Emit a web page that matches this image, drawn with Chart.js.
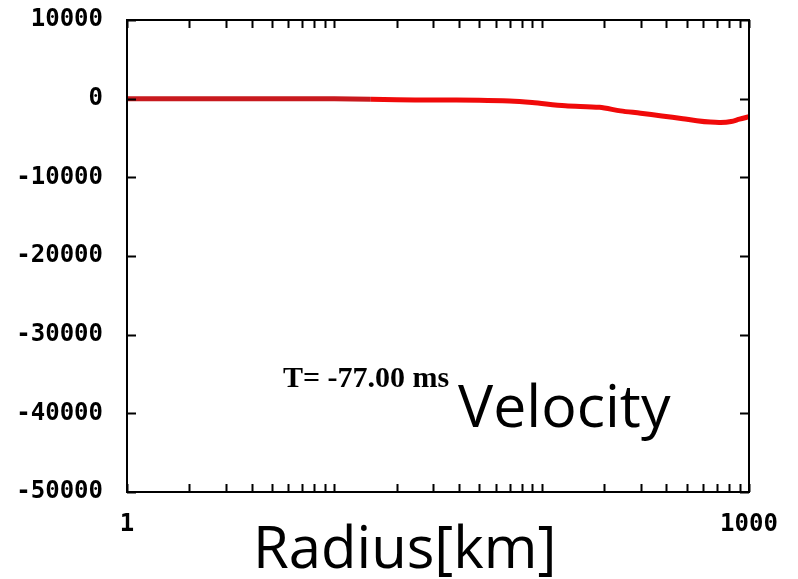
<!DOCTYPE html>
<html>
<head>
<meta charset="utf-8">
<title>Velocity</title>
<script src="https://cdn.jsdelivr.net/npm/chart.js@4"></script>
<style>
  body { margin: 0; background: #fff; }
  #wrap { width: 798px; height: 579px; position: relative; }
</style>
</head>
<body>
<div id="wrap"><canvas id="velocity-chart"></canvas></div>
<script>
// données
const radiusKm = [1, 2, 5, 10, 15, 20, 30, 50, 70, 90, 130, 190, 240, 300, 380, 480, 560, 650, 730, 820, 900, 1000];
const velocity = [0, 0, 0, -20, -80, -150, -180, -200, -300, -500, -900, -1100, -1550, -1850, -2200, -2550, -2800, -2980, -3030, -2900, -2600, -2300];

const xTickValues = [1, 2, 3, 4, 5, 6, 7, 8, 9, 10, 20, 30, 40, 50, 60, 70, 80, 90, 100, 200, 300, 400, 500, 600, 700, 800, 900, 1000];
const xTickLabels = ['1', '1000'];
const yTickValues = [10000, 0, -10000, -20000, -30000, -40000, -50000];

const timeLabel = 'T= -77.00 ms';
const plotTitle = 'Velocity';
const xTitle = 'Radius[km]';

// cadre + graduations intérieures (style gnuplot)
const frameTicks = {
    id: 'frameTicks',
    afterDatasetsDraw(chart) {
        const { ctx, chartArea: a, scales: { x, y } } = chart;
        ctx.save();
        ctx.strokeStyle = '#000';
        ctx.lineWidth = 2;
        ctx.strokeRect(a.left, a.top, a.right - a.left, a.bottom - a.top);
        ctx.beginPath();
        xTickValues.forEach(v => {
            const px = Math.round(x.getPixelForValue(v)) + 0.5;
            ctx.moveTo(px, a.bottom); ctx.lineTo(px, a.bottom - 8);
            ctx.moveTo(px, a.top); ctx.lineTo(px, a.top + 8);
        });
        yTickValues.forEach(v => {
            const py = Math.round(y.getPixelForValue(v)) + 0.5;
            ctx.moveTo(a.left, py); ctx.lineTo(a.left + 9, py);
            ctx.moveTo(a.right, py); ctx.lineTo(a.right - 9, py);
        });
        ctx.stroke();
        ctx.restore();
    },
    afterDraw(chart) {
        const ctx = chart.ctx;
        ctx.save();
        ctx.fillStyle = '#000';
        ctx.textBaseline = 'alphabetic';
        ctx.textAlign = 'left';
        ctx.font = 'bold 30px "Liberation Serif", serif';
        ctx.fillText(timeLabel, 283, 387);
        ctx.font = '59px "Open Sans", sans-serif';
        ctx.fillText(plotTitle, 458, 427);
        ctx.font = '58px "Open Sans", sans-serif';
        ctx.fillText(xTitle, 253, 568);
        ctx.restore();
    }
};

const tickFont = { family: '"DejaVu Sans Mono", monospace', size: 24, weight: 'bold' };

new Chart(document.getElementById('velocity-chart'), {
    type: 'line',
    data: {
        datasets: [{
            label: 'Velocity',
            data: radiusKm.map((r, i) => ({ x: r, y: velocity[i] })),
            borderColor: '#f00a0a',
            borderWidth: 5,
            pointRadius: 0,
            tension: 0.3,
            fill: false,
            segment: {
                // partie gauche plus sombre, comme sur l'image
                borderColor: c => c.p0.parsed.x < 15 ? '#c81a1e' : undefined
            }
        }]
    },
    options: {
        responsive: true,
        maintainAspectRatio: false,
        animation: false,
        layout: { padding: { left: 0, right: 49, top: 20, bottom: 0 } },
        plugins: {
            legend: { display: false },
            tooltip: { enabled: false }
        },
        scales: {
            x: {
                type: 'logarithmic',
                min: 1,
                max: 1000,
                grid: { display: false },
                border: { display: false },
                afterBuildTicks: scale => {
                    scale.ticks = xTickValues.map(v => ({ value: v }));
                },
                afterFit: scale => {
                    scale.height = 87;
                    scale.paddingLeft = 0;
                    scale.paddingRight = 0;
                },
                ticks: {
                    autoSkip: false,
                    maxRotation: 0,
                    padding: 10,
                    color: '#000',
                    font: tickFont,
                    callback: function(value) {
                        const s = String(value);
                        return xTickLabels.includes(s) ? s : '';
                    }
                }
            },
            y: {
                min: -50000,
                max: 10000,
                grid: { display: false },
                border: { display: false },
                afterFit: scale => {
                    scale.width = 127;
                    scale.paddingTop = 0;
                    scale.paddingBottom = 0;
                },
                ticks: {
                    stepSize: 10000,
                    padding: 16,
                    color: '#000',
                    font: tickFont,
                    callback: value => String(value)
                }
            }
        }
    },
    plugins: [frameTicks]
});
</script>
</body>
</html>
